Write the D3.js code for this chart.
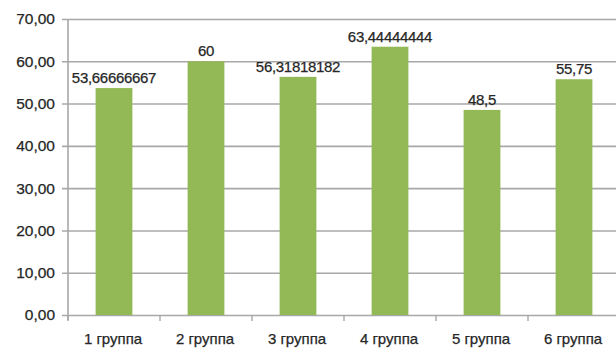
<!DOCTYPE html>
<html>
<head>
<meta charset="utf-8">
<script src="https://cdn.jsdelivr.net/npm/d3@7"></script>
<style>
  html, body { margin: 0; padding: 0; background: #fff; }
  svg { display: block; overflow: hidden; }
  text { font-family: "Liberation Sans", Arial, sans-serif; fill: #262626; stroke: #262626; stroke-width: 0.25px; }
</style>
</head>
<body>
<svg id="chart" width="616" height="348"></svg>
<script>
// Group names and mean values per group
const categories = ["1 группа", "2 группа", "3 группа", "4 группа", "5 группа", "6 группа"];
const values = [53.66666667, 60, 56.31818182, 63.44444444, 48.5, 55.75];
const valueLabels = ["53,66666667", "60", "56,31818182", "63,44444444", "48,5", "55,75"];
const yTicks = [0, 10, 20, 30, 40, 50, 60, 70];

const svg = d3.select("#chart");
const plotLeft = 68, plotRight = 620, plotTop = 19, plotBottom = 315;

const x = d3.scaleBand().domain(categories).range([plotLeft, plotRight]).paddingInner(0).paddingOuter(0);
const y = d3.scaleLinear().domain([0, 70]).range([plotBottom, plotTop]);
const fmt = v => d3.format(".2f")(v).replace(".", ",");

// Horizontal gridlines with short outward ticks
const yAxis = d3.axisLeft(y).tickValues(yTicks).tickSize(-(plotRight - plotLeft)).tickFormat(fmt).tickPadding(14);
const gy = svg.append("g").attr("transform", `translate(${plotLeft},0)`).call(yAxis);
gy.select(".domain").remove();
gy.selectAll(".tick line").attr("x1", -6).attr("stroke", "#a8a8a8").attr("stroke-width", 1.6);
gy.selectAll(".tick text").style("font-size", "15.5px").attr("fill", "#262626").attr("x", -13);

// Vertical axis line
svg.append("line")
  .attr("x1", plotLeft).attr("x2", plotLeft).attr("y1", plotTop).attr("y2", plotBottom + 5)
  .attr("stroke", "#a8a8a8").attr("stroke-width", 1.6);

// Category boundary ticks below the baseline
const bounds = categories.map(c => x(c)).concat([plotRight]);
svg.append("g").selectAll("line").data(bounds).join("line")
  .attr("x1", d => d).attr("x2", d => d)
  .attr("y1", plotBottom).attr("y2", plotBottom + 6)
  .attr("stroke", "#a8a8a8").attr("stroke-width", 1.4);

// Bars
const barW = x.bandwidth() * 0.4;
svg.append("g").selectAll("rect").data(values).join("rect")
  .attr("x", (d, i) => x(categories[i]) + x.bandwidth() / 2 - barW / 2)
  .attr("y", d => y(d))
  .attr("width", barW)
  .attr("height", d => y(0) - y(d))
  .attr("fill", "#92b955");

// Value labels above bars
svg.append("g").selectAll("text").data(values).join("text")
  .attr("x", (d, i) => x(categories[i]) + x.bandwidth() / 2)
  .attr("y", d => y(d) - 5)
  .attr("text-anchor", "middle")
  .style("font-size", "15px")
  .style("letter-spacing", "-0.3px")
  .text((d, i) => valueLabels[i]);

// Category labels
svg.append("g").selectAll("text").data(categories).join("text")
  .attr("x", d => x(d) + x.bandwidth() / 2 - 1)
  .attr("y", 344)
  .attr("text-anchor", "middle")
  .style("font-size", "15px")
  .text(d => d);
</script>
</body>
</html>
